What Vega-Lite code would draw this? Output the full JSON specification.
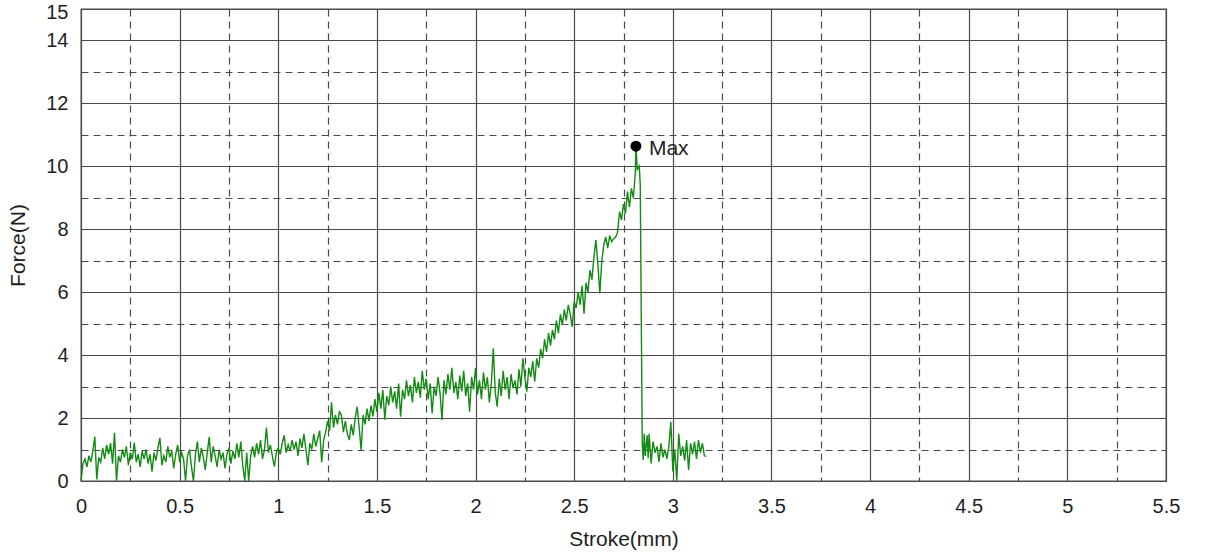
{
  "$schema": "https://vega.github.io/schema/vega-lite/v6.json",
  "width": 1085,
  "height": 472,
  "autosize": {"type": "none"},
  "padding": {"left": 81, "top": 9, "right": 47, "bottom": 77},
  "background": "white",
  "config": {
    "view": {"stroke": "#4a4a4a", "strokeWidth": 1.3},
    "font": "Liberation Sans",
    "axis": {
      "domain": false,
      "ticks": false,
      "labelFont": "Liberation Sans",
      "labelFontSize": 20,
      "labelColor": "#1e1e1e",
      "labelFlush": false,
      "titleFont": "Liberation Sans",
      "titleFontSize": 21,
      "titleFontWeight": "normal",
      "titleColor": "#1e1e1e",
      "gridColor": "#4a4a4a",
      "gridWidth": 1.2,
      "gridOpacity": 1,
      "labelOverlap": false
    }
  },
  "datasets": {
    "curve": [
      {"x":0.00,"y":0.0},{"x":0.01,"y":0.55},{"x":0.02,"y":0.7},{"x":0.03,"y":0.45},{"x":0.04,"y":0.8},{"x":0.05,"y":0.6},{"x":0.06,"y":0.95},{"x":0.07,"y":1.41},{"x":0.08,"y":0.05},{"x":0.09,"y":0.75},
      {"x":0.10,"y":0.6},{"x":0.11,"y":1.05},{"x":0.12,"y":0.7},{"x":0.13,"y":1.15},{"x":0.14,"y":0.85},{"x":0.15,"y":1.2},{"x":0.16,"y":0.55},{"x":0.17,"y":1.53},{"x":0.18,"y":0.0},{"x":0.19,"y":0.8},
      {"x":0.20,"y":0.6},{"x":0.21,"y":1.0},{"x":0.22,"y":0.75},{"x":0.23,"y":1.1},{"x":0.24,"y":0.5},{"x":0.25,"y":0.9},{"x":0.26,"y":0.7},{"x":0.27,"y":1.22},{"x":0.28,"y":0.6},{"x":0.29,"y":0.85},
      {"x":0.30,"y":0.45},{"x":0.31,"y":0.95},{"x":0.32,"y":0.7},{"x":0.33,"y":1.0},{"x":0.34,"y":0.55},{"x":0.35,"y":0.85},{"x":0.36,"y":0.3},{"x":0.37,"y":0.9},{"x":0.38,"y":0.65},{"x":0.39,"y":1.05},
      {"x":0.40,"y":1.37},{"x":0.41,"y":0.5},{"x":0.42,"y":0.8},{"x":0.43,"y":0.6},{"x":0.44,"y":1.1},{"x":0.45,"y":0.75},{"x":0.46,"y":0.95},{"x":0.47,"y":0.4},{"x":0.48,"y":0.85},{"x":0.49,"y":1.15},
      {"x":0.50,"y":0.6},{"x":0.51,"y":0.9},{"x":0.52,"y":0.7},{"x":0.53,"y":0.0},{"x":0.54,"y":0.8},{"x":0.55,"y":1.0},{"x":0.56,"y":0.45},{"x":0.57,"y":0.0},{"x":0.58,"y":0.85},{"x":0.59,"y":1.25},
      {"x":0.60,"y":0.6},{"x":0.61,"y":1.05},{"x":0.62,"y":0.75},{"x":0.63,"y":0.35},{"x":0.64,"y":0.9},{"x":0.65,"y":1.4},{"x":0.66,"y":0.6},{"x":0.67,"y":1.1},{"x":0.68,"y":0.8},{"x":0.69,"y":0.45},
      {"x":0.70,"y":1.0},{"x":0.71,"y":0.7},{"x":0.72,"y":0.9},{"x":0.73,"y":0.4},{"x":0.74,"y":0.85},{"x":0.75,"y":1.05},{"x":0.76,"y":0.55},{"x":0.77,"y":0.95},{"x":0.78,"y":0.7},{"x":0.79,"y":1.2},
      {"x":0.80,"y":0.75},{"x":0.81,"y":1.25},{"x":0.82,"y":0.5},{"x":0.83,"y":0.0},{"x":0.84,"y":0.9},{"x":0.85,"y":0.0},{"x":0.86,"y":0.8},{"x":0.87,"y":1.1},{"x":0.88,"y":0.75},{"x":0.89,"y":1.2},
      {"x":0.90,"y":0.85},{"x":0.91,"y":1.3},{"x":0.92,"y":0.7},{"x":0.93,"y":1.0},{"x":0.94,"y":1.7},{"x":0.95,"y":0.9},{"x":0.96,"y":1.15},{"x":0.97,"y":0.8},{"x":0.98,"y":0.46},{"x":0.99,"y":0.9},
      {"x":1.00,"y":1.05},{"x":1.01,"y":0.85},{"x":1.02,"y":1.2},{"x":1.03,"y":1.45},{"x":1.04,"y":0.9},{"x":1.05,"y":1.15},{"x":1.06,"y":0.95},{"x":1.07,"y":1.3},{"x":1.08,"y":1.0},{"x":1.09,"y":1.25},
      {"x":1.10,"y":0.8},{"x":1.11,"y":1.35},{"x":1.12,"y":1.05},{"x":1.13,"y":1.5},{"x":1.14,"y":1.0},{"x":1.15,"y":0.5},{"x":1.16,"y":1.2},{"x":1.17,"y":1.0},{"x":1.18,"y":1.5},{"x":1.19,"y":1.1},
      {"x":1.20,"y":1.35},{"x":1.21,"y":1.6},{"x":1.22,"y":0.6},{"x":1.23,"y":1.3},{"x":1.24,"y":1.55},{"x":1.25,"y":1.9},{"x":1.26,"y":1.6},{"x":1.27,"y":2.5},{"x":1.28,"y":1.7},{"x":1.29,"y":2.1},
      {"x":1.30,"y":1.8},{"x":1.31,"y":2.2},{"x":1.32,"y":2.1},{"x":1.33,"y":1.55},{"x":1.34,"y":1.9},{"x":1.35,"y":1.5},{"x":1.36,"y":1.3},{"x":1.37,"y":1.8},{"x":1.38,"y":1.45},{"x":1.39,"y":2.0},
      {"x":1.40,"y":2.36},{"x":1.41,"y":1.7},{"x":1.42,"y":0.98},{"x":1.43,"y":2.1},{"x":1.44,"y":1.8},{"x":1.45,"y":2.3},{"x":1.46,"y":1.9},{"x":1.47,"y":2.4},{"x":1.48,"y":2.05},{"x":1.49,"y":2.6},
      {"x":1.50,"y":2.2},{"x":1.51,"y":2.8},{"x":1.52,"y":2.3},{"x":1.53,"y":2.9},{"x":1.54,"y":1.95},{"x":1.55,"y":2.7},{"x":1.56,"y":2.4},{"x":1.57,"y":3.0},{"x":1.58,"y":2.5},{"x":1.59,"y":2.85},
      {"x":1.60,"y":2.3},{"x":1.61,"y":3.1},{"x":1.62,"y":2.04},{"x":1.63,"y":2.9},{"x":1.64,"y":2.6},{"x":1.65,"y":3.2},{"x":1.66,"y":2.7},{"x":1.67,"y":3.05},{"x":1.68,"y":2.5},{"x":1.69,"y":3.3},
      {"x":1.70,"y":2.8},{"x":1.71,"y":3.15},{"x":1.72,"y":2.65},{"x":1.73,"y":3.5},{"x":1.74,"y":2.9},{"x":1.75,"y":3.25},{"x":1.76,"y":2.6},{"x":1.77,"y":3.1},{"x":1.78,"y":2.15},{"x":1.79,"y":3.0},
      {"x":1.80,"y":2.7},{"x":1.81,"y":3.3},{"x":1.82,"y":2.8},{"x":1.83,"y":1.94},{"x":1.84,"y":3.2},{"x":1.85,"y":2.75},{"x":1.86,"y":3.4},{"x":1.87,"y":2.9},{"x":1.88,"y":3.6},{"x":1.89,"y":2.8},
      {"x":1.90,"y":3.15},{"x":1.91,"y":2.6},{"x":1.92,"y":3.35},{"x":1.93,"y":2.85},{"x":1.94,"y":3.5},{"x":1.95,"y":2.7},{"x":1.96,"y":3.1},{"x":1.97,"y":2.2},{"x":1.98,"y":3.3},{"x":1.99,"y":2.9},
      {"x":2.00,"y":3.6},{"x":2.01,"y":2.75},{"x":2.02,"y":3.2},{"x":2.03,"y":2.6},{"x":2.04,"y":3.45},{"x":2.05,"y":2.9},{"x":2.06,"y":3.3},{"x":2.07,"y":2.5},{"x":2.08,"y":3.1},{"x":2.09,"y":4.22},
      {"x":2.10,"y":2.8},{"x":2.11,"y":2.36},{"x":2.12,"y":3.25},{"x":2.13,"y":2.7},{"x":2.14,"y":3.5},{"x":2.15,"y":2.9},{"x":2.16,"y":3.3},{"x":2.17,"y":2.6},{"x":2.18,"y":3.4},{"x":2.19,"y":2.95},
      {"x":2.20,"y":3.2},{"x":2.21,"y":2.75},{"x":2.22,"y":3.55},{"x":2.23,"y":3.0},{"x":2.24,"y":3.9},{"x":2.25,"y":3.3},{"x":2.26,"y":2.84},{"x":2.27,"y":3.6},{"x":2.28,"y":3.3},{"x":2.29,"y":3.8},
      {"x":2.30,"y":3.16},{"x":2.31,"y":3.9},{"x":2.32,"y":3.6},{"x":2.33,"y":4.2},{"x":2.34,"y":3.9},{"x":2.35,"y":4.5},{"x":2.36,"y":4.1},{"x":2.37,"y":4.7},{"x":2.38,"y":4.3},{"x":2.39,"y":4.8},
      {"x":2.40,"y":4.5},{"x":2.41,"y":5.1},{"x":2.42,"y":4.7},{"x":2.43,"y":5.3},{"x":2.44,"y":4.95},{"x":2.45,"y":5.45},{"x":2.46,"y":5.1},{"x":2.47,"y":5.6},{"x":2.48,"y":5.3},{"x":2.49,"y":4.9},
      {"x":2.50,"y":5.7},{"x":2.51,"y":5.5},{"x":2.52,"y":6.0},{"x":2.53,"y":5.6},{"x":2.54,"y":6.2},{"x":2.55,"y":5.32},{"x":2.56,"y":6.3},{"x":2.57,"y":6.0},{"x":2.58,"y":6.7},{"x":2.59,"y":6.4},
      {"x":2.60,"y":7.1},{"x":2.61,"y":7.66},{"x":2.62,"y":6.9},{"x":2.63,"y":5.96},{"x":2.64,"y":7.0},{"x":2.65,"y":7.5},{"x":2.66,"y":7.76},{"x":2.67,"y":7.4},{"x":2.68,"y":7.8},{"x":2.69,"y":7.6},
      {"x":2.70,"y":7.7},{"x":2.71,"y":7.75},{"x":2.72,"y":7.9},{"x":2.73,"y":8.56},{"x":2.74,"y":8.3},{"x":2.75,"y":8.8},{"x":2.76,"y":8.5},{"x":2.77,"y":9.2},{"x":2.78,"y":8.7},{"x":2.79,"y":9.3},
      {"x":2.80,"y":9.0},{"x":2.81,"y":9.8},{"x":2.813,"y":10.64},{"x":2.82,"y":9.9},{"x":2.83,"y":10.0},{"x":2.835,"y":9.4},{"x":2.845,"y":1.2},{"x":2.85,"y":0.67},{"x":2.855,"y":1.5},{"x":2.86,"y":0.8},
      {"x":2.87,"y":1.45},{"x":2.875,"y":0.72},{"x":2.88,"y":1.5},{"x":2.89,"y":0.56},{"x":2.90,"y":1.25},{"x":2.91,"y":0.9},{"x":2.92,"y":1.1},{"x":2.93,"y":0.61},{"x":2.94,"y":1.2},{"x":2.95,"y":0.75},
      {"x":2.96,"y":1.0},{"x":2.97,"y":0.7},{"x":2.98,"y":1.1},{"x":2.99,"y":1.88},{"x":3.00,"y":0.3},{"x":3.01,"y":1.0},{"x":3.02,"y":0.0},{"x":3.03,"y":1.5},{"x":3.04,"y":0.8},{"x":3.05,"y":1.1},
      {"x":3.06,"y":0.65},{"x":3.07,"y":1.3},{"x":3.08,"y":0.35},{"x":3.09,"y":1.2},{"x":3.10,"y":0.85},{"x":3.11,"y":1.25},{"x":3.12,"y":0.7},{"x":3.13,"y":1.3},{"x":3.14,"y":0.9},{"x":3.15,"y":1.2},
      {"x":3.16,"y":0.8},{"x":3.17,"y":0.78}
    ],
    "peak": [{"x": 2.813, "y": 10.64, "label": "Max"}]
  },
  "encoding": {
    "x": {
      "field": "x", "type": "quantitative",
      "scale": {"domain": [0, 5.5], "nice": false, "zero": false},
      "axis": {
        "title": "Stroke(mm)",
        "values": [0,0.25,0.5,0.75,1,1.25,1.5,1.75,2,2.25,2.5,2.75,3,3.25,3.5,3.75,4,4.25,4.5,4.75,5,5.25,5.5],
        "labelExpr": "datum.value % 0.5 === 0 ? format(datum.value, '~g') : ''",
        "labelPadding": 15,
        "titlePadding": 12,
        "gridDash": {"condition": {"test": "datum.value % 0.5 !== 0", "value": [7, 5]}, "value": []}
      }
    },
    "y": {
      "field": "y", "type": "quantitative",
      "scale": {"domain": [0, 15], "nice": false, "zero": false},
      "axis": {
        "title": "Force(N)",
        "values": [0,1,2,3,4,5,6,7,8,9,10,11,12,13,14,15],
        "labelExpr": "(datum.value % 2 === 0 || datum.value === 15) ? format(datum.value, '~g') : ''",
        "labelPadding": 13,
        "labelOffset": {"condition": {"test": "datum.value === 15", "value": 3}, "value": 0},
        "titlePadding": 17,
        "gridDash": {"condition": {"test": "datum.value % 2 === 1 && datum.value < 15", "value": [7, 5]}, "value": []}
      }
    }
  },
  "layer": [
    {
      "data": {"name": "curve"},
      "mark": {"type": "line", "color": "#138a13", "strokeWidth": 1.4, "interpolate": "linear"}
    },
    {
      "data": {"name": "peak"},
      "mark": {"type": "point", "filled": true, "color": "#000000", "size": 120, "opacity": 1}
    },
    {
      "data": {"name": "peak"},
      "mark": {"type": "text", "align": "left", "baseline": "middle", "dx": 13, "dy": 3, "fontSize": 21, "font": "Liberation Sans", "color": "#1e1e1e"},
      "encoding": {"text": {"field": "label"}}
    }
  ]
}
